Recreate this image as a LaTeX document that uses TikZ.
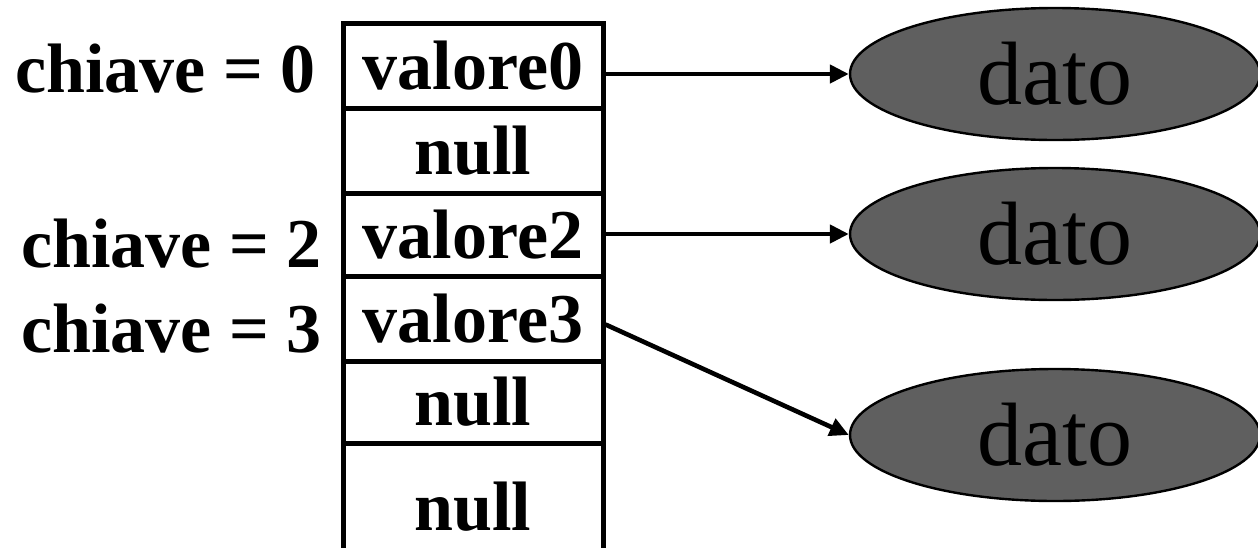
\documentclass[tikz,border=0pt]{standalone}
\usepackage{fontspec}
\setmainfont{Liberation Serif}
\usetikzlibrary{shapes.geometric,arrows.meta}
\tikzset{
  cell/.style={draw, line width=2.5pt, minimum width=130pt, inner sep=0pt, font=\fontsize{35}{40}\selectfont\bfseries},
  keylabel/.style={anchor=base east, inner sep=0pt, font=\fontsize{35}{40}\selectfont\bfseries},
  datum/.style={ellipse, draw, line width=1.2pt, fill=datagray, minimum width=205pt, minimum height=66pt, inner sep=0pt, font=\fontsize{45}{50}\selectfont},
  arr/.style={line width=2.3pt, -{Triangle[length=9.5pt,width=9pt]}}
}
\definecolor{datagray}{HTML}{5F5F5F}
\begin{document}
\begin{tikzpicture}[x=0.5pt,y=-0.5pt]
\clip (0,0) rectangle (1258,547);
\fill[white] (0,0) rectangle (1258,547);
% table cells
\node[cell, minimum height=42.5pt] (c0) at (473,65.5) {valore0};
\node[cell, minimum height=42.5pt] (c1) at (473,150.5) {null};
\node[cell, minimum height=41.5pt] (c2) at (473,234.5) {valore2};
\node[cell, minimum height=42.5pt] (c3) at (473,318.5) {valore3};
\node[cell, minimum height=41pt] (c4) at (473,402) {null};
\node[cell, minimum height=54pt] (c5) at (473,497) {};
\node[font=\fontsize{35}{40}\selectfont\bfseries, anchor=base, inner sep=0pt] (t5) at (473,530) {null};
% key labels
\node[keylabel] (k0) at (316,92) {chiave = 0};
\node[keylabel] (k2) at (322,267) {chiave = 2};
\node[keylabel] (k3) at (322,352) {chiave = 3};
% data ellipses
\node[datum] (e1) at (1055,74) {dato};
\node[datum] (e2) at (1055,234) {dato};
\node[datum] (e3) at (1055,435) {dato};
% connectors
\draw[arr] (c0.east |- e1.west) -- (e1.west);
\draw[arr] (c2.east |- e2.west) -- (e2.west);
\draw[arr] ([yshift=-3pt]c3.east) -- (e3.west);
\end{tikzpicture}
\end{document}
